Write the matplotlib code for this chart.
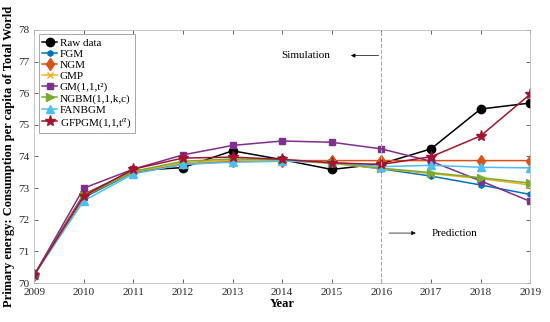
import numpy as np
import matplotlib.pyplot as plt

plt.rcParams['font.family'] = ['Liberation Serif', 'DejaVu Serif']
plt.rcParams['mathtext.fontset'] = 'stix'

years = [2009, 2010, 2011, 2012, 2013, 2014, 2015, 2016, 2017, 2018, 2019]

raw = [70.25, 72.80, 73.55, 73.65, 74.18, 73.90, 73.59, 73.77, 74.24, 75.50, 75.69]
fgm = [70.25, 72.70, 73.50, 73.75, 73.85, 73.88, 73.80, 73.61, 73.38, 73.10, 72.80]
ngm = [70.25, 72.80, 73.52, 73.78, 73.85, 73.87, 73.87, 73.87, 73.87, 73.87, 73.87]
gmp = [70.25, 72.75, 73.52, 73.80, 73.88, 73.88, 73.78, 73.62, 73.46, 73.30, 73.10]
gm = [70.25, 73.00, 73.60, 74.05, 74.35, 74.49, 74.45, 74.24, 73.85, 73.23, 72.58]
ngbm = [70.25, 72.75, 73.53, 73.85, 73.92, 73.90, 73.80, 73.63, 73.49, 73.33, 73.16]
fanbgm = [70.25, 72.60, 73.45, 73.75, 73.82, 73.85, 73.82, 73.68, 73.72, 73.66, 73.64]
gfpgm = [70.25, 72.75, 73.60, 73.95, 73.98, 73.91, 73.80, 73.75, 73.99, 74.65, 75.97]

series = [
    ("Raw data", raw, "black", "o", 6),
    ("FGM", fgm, "#0072BD", "h", 4),
    ("NGM", ngm, "#D95319", "d", 6),
    ("GMP", gmp, "#EDB120", "x", 5),
    ("GM(1,1,t²)", gm, "#7E2F8E", "s", 5),
    ("NGBM(1,1,k,c)", ngbm, "#77AC30", ">", 6),
    ("FANBGM", fanbgm, "#4DBEEE", "^", 6),
    (r"GFPGM(1,1,t$^{\alpha}$)", gfpgm, "#A2142F", "*", 8),
]

fig = plt.figure(figsize=(5.5, 3.22), dpi=100)
ax = fig.add_axes([0.062, 0.121, 0.902, 0.786])

for name, vals, col, mk, ms in series:
    ax.plot(years, vals, color=col, marker=mk, markersize=ms, linewidth=1.1,
            label=name)

ax.axvline(2016, color="#aaaaaa", linestyle="--", linewidth=0.8)

ax.annotate("", xy=(2015.33, 77.19), xytext=(2016.0, 77.19),
            arrowprops=dict(arrowstyle="-|>", color="black", lw=0.5,
                            mutation_scale=6))
ax.text(2014.97, 77.19, "Simulation", ha="right", va="center", fontsize=8)
ax.annotate("", xy=(2016.75, 71.58), xytext=(2016.1, 71.58),
            arrowprops=dict(arrowstyle="-|>", color="black", lw=0.5,
                            mutation_scale=6))
ax.text(2017.02, 71.58, "Prediction", ha="left", va="center", fontsize=8)

ax.set_xlim(2009, 2019)
ax.set_ylim(70, 78)
ax.set_xticks(years)
ax.set_yticks(range(70, 79))
ax.tick_params(direction="in", top=True, right=True, labelsize=8,
               colors="#262626", length=3, width=0.5)
for s in ax.spines.values():
    s.set_color("#bbbbbb")
    s.set_linewidth(0.6)

ax.set_xlabel("Year", fontsize=9, fontweight="bold", labelpad=1)
ax.set_ylabel("Primary energy: Consumption per capita of Total World",
              fontsize=9, fontweight="bold", labelpad=2)

leg = ax.legend(loc="upper left", fontsize=8, handlelength=1.4,
                handletextpad=0.2, labelspacing=0.12, borderpad=0.3,
                fancybox=False, framealpha=1, borderaxespad=0.4)
leg.get_frame().set_edgecolor("#999999")
leg.get_frame().set_linewidth(0.6)

fig.savefig("out.png", dpi=100)
